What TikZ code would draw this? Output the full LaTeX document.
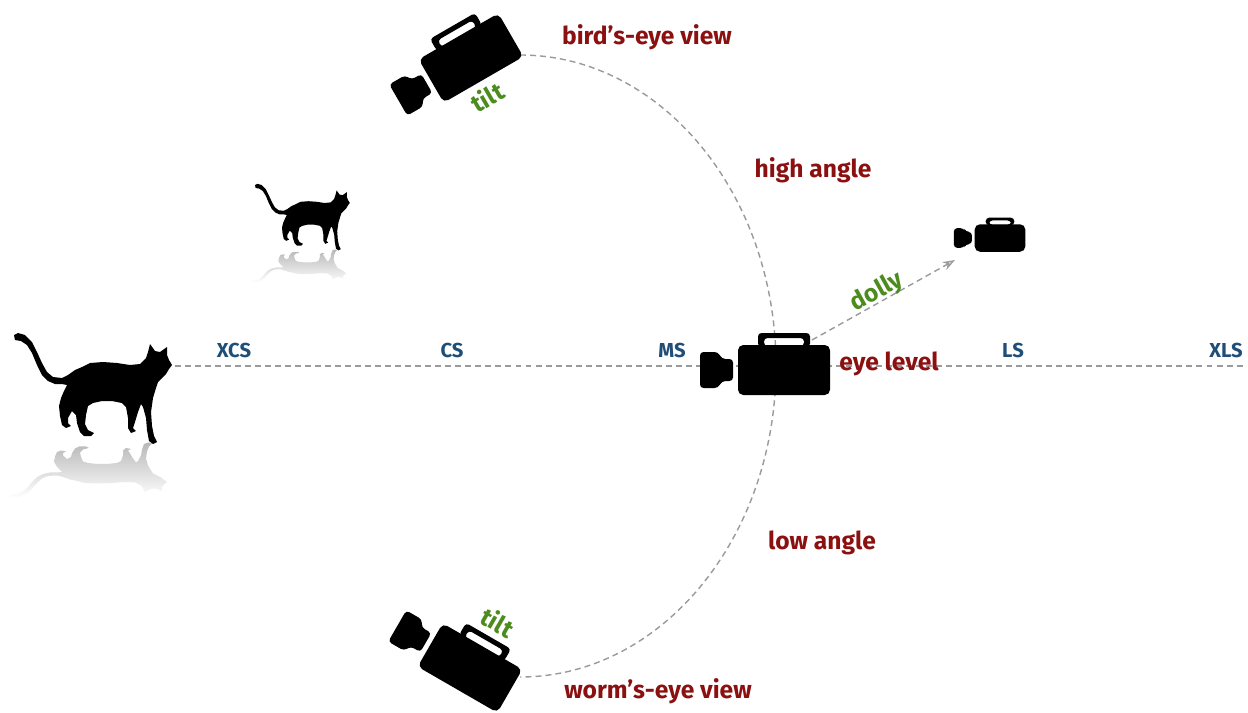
\documentclass[tikz,border=0pt]{standalone}
\usepackage{fontspec}
\setmainfont{Fira Sans}
\usepackage{xcolor}
\usetikzlibrary{arrows.meta, fadings}

\definecolor{viewred}{HTML}{8B1010}
\definecolor{shotblue}{HTML}{1F4E79}
\definecolor{movegreen}{HTML}{4C8C1E}
\definecolor{guidegray}{HTML}{9A9A9A}

% cat outline, pixel units, y pointing down
\newcommand{\catshape}{(14,15) -- (18,13) -- (25,15) -- (32,22) -- (37,32) -- (42,43) -- (47,52) -- (53,57) -- (62,58) -- (68,55) -- (75,50) -- (82,47) -- (90,43) -- (103,42) -- (117,43) -- (130,45) -- (140,44) -- (146,38) -- (148,32) -- (150,24) -- (155,31) -- (160,32) -- (167,27) -- (167,35) -- (169,40) -- (172,45) -- (169,49) -- (166,54) -- (162,58) -- (158,62) -- (156,68) -- (153,78) -- (151,92) -- (152,106) -- (154,116) -- (157,122) -- (153,124) -- (149,121) -- (147,110) -- (146,98) -- (143,87) -- (141,84) -- (138,92) -- (135,102) -- (133,108) -- (136,111) -- (131,113) -- (128,108) -- (128,98) -- (126,87) -- (122,83) -- (112,81) -- (102,81) -- (93,83) -- (88,86) -- (86,95) -- (85,104) -- (88,110) -- (94,113) -- (91,116) -- (84,116) -- (80,112) -- (77,103) -- (76,95) -- (72,91) -- (68,98) -- (68,103) -- (71,106) -- (66,108) -- (62,105) -- (60,96) -- (59,86) -- (61,78) -- (64,71) -- (67,65) -- (62,64) -- (55,64) -- (48,61) -- (42,55) -- (37,45) -- (32,33) -- (27,25) -- (21,21) -- (15,20) -- cycle}

\tikzset{
	guide/.style={draw=guidegray, line width=0.8pt, dash pattern=on 3.4pt off 2.3pt},
	viewlbl/.style={text=viewred, inner sep=0pt, font=\bfseries\fontsize{14}{16}\selectfont},
	shotlbl/.style={text=shotblue, inner sep=0pt, font=\bfseries\fontsize{11.5}{13}\selectfont},
	movelbl/.style={text=movegreen, inner sep=0pt, font=\bfseries\fontsize{14}{16}\selectfont},
	cam/.pic={
		% body, handle and lens
		\fill[rounded corners=3pt] (-46,-25) rectangle (46,25);
		\fill[even odd rule, rounded corners=2pt] (-26,-23) -- (-26,-37) -- (26,-37) -- (26,-23) -- cycle
			(-20,-24) -- (-20,-32) -- (20,-32) -- (20,-24) -- cycle;
		\fill[rounded corners=2pt] (-51,-11) -- (-62,-11) -- (-66,-18) -- (-84,-18) -- (-84,18) -- (-66,18) -- (-62,11) -- (-51,11) -- cycle;
	}
}

\begin{document}
\begin{tikzpicture}[x=0.02cm, y=-0.02cm]
	\useasboundingbox (0,0) rectangle (1248,713);

	% reflections under the cats
	\begin{scope}[shift={(-5,504.5)}, yscale=-0.5]
		\fill[black!28, path fading=south] \catshape;
	\end{scope}
	\begin{scope}[shift={(243,286.7)}, xscale=0.6, yscale=-0.3]
		\fill[black!28, path fading=south] \catshape;
	\end{scope}

	% cats
	\begin{scope}[shift={(0,320)}]
		\fill \catshape;
	\end{scope}
	\begin{scope}[shift={(246.6,176)}, scale=0.6]
		\fill \catshape;
	\end{scope}

	\coordinate (nose) at (175,366);
	\coordinate (farend) at (1246,366);
	\coordinate (birdtip) at (520,55);
	\coordinate (eyepoint) at (776,366);
	\coordinate (wormtip) at (520,677);
	\coordinate (dollystart) at (812,340);
	\coordinate (dollyend) at (955,260);

	% distance line and camera angle arc
	\draw[guide] (nose) -- (farend);
	\draw[guide] (birdtip) .. controls (661,55) and (776,194) .. (eyepoint)
		.. controls (776,538) and (661,677) .. (wormtip);
	\draw[guide, -{Stealth[open, length=7pt, width=5pt]}] (dollystart) -- (dollyend);

	% cameras
	\pic[rotate=30] (birdcam) at (471,58) {cam};
	\pic (eyecam) at (784,370) {cam};
	\pic[scale=0.55] (dollycam) at (1000,238) {cam};
	\pic[rotate=-30] (wormcam) at (470,668) {cam};

	% angles
	\node[viewlbl] (birdseye) at (647,37) {bird’s-eye view};
	\node[viewlbl] (highangle) at (813,170) {high angle};
	\node[viewlbl] (eyelevel) at (889,364) {eye level};
	\node[viewlbl] (lowangle) at (822,543) {low angle};
	\node[viewlbl] (wormseye) at (658,691) {worm’s-eye view};

	% shot sizes
	\node[shotlbl] (xcs) at (234,350) {XCS};
	\node[shotlbl] (cs) at (452,350) {CS};
	\node[shotlbl] (ms) at (672,350) {MS};
	\node[shotlbl] (ls) at (1013,350) {LS};
	\node[shotlbl] (xls) at (1226,350) {XLS};

	% camera moves
	\node[movelbl, rotate=29] (dolly) at (877,292) {dolly};
	\node[movelbl, rotate=30] (tilttop) at (487,97) {tilt};
	\node[movelbl, rotate=-30] (tiltbottom) at (498,622) {tilt};
\end{tikzpicture}
\end{document}
